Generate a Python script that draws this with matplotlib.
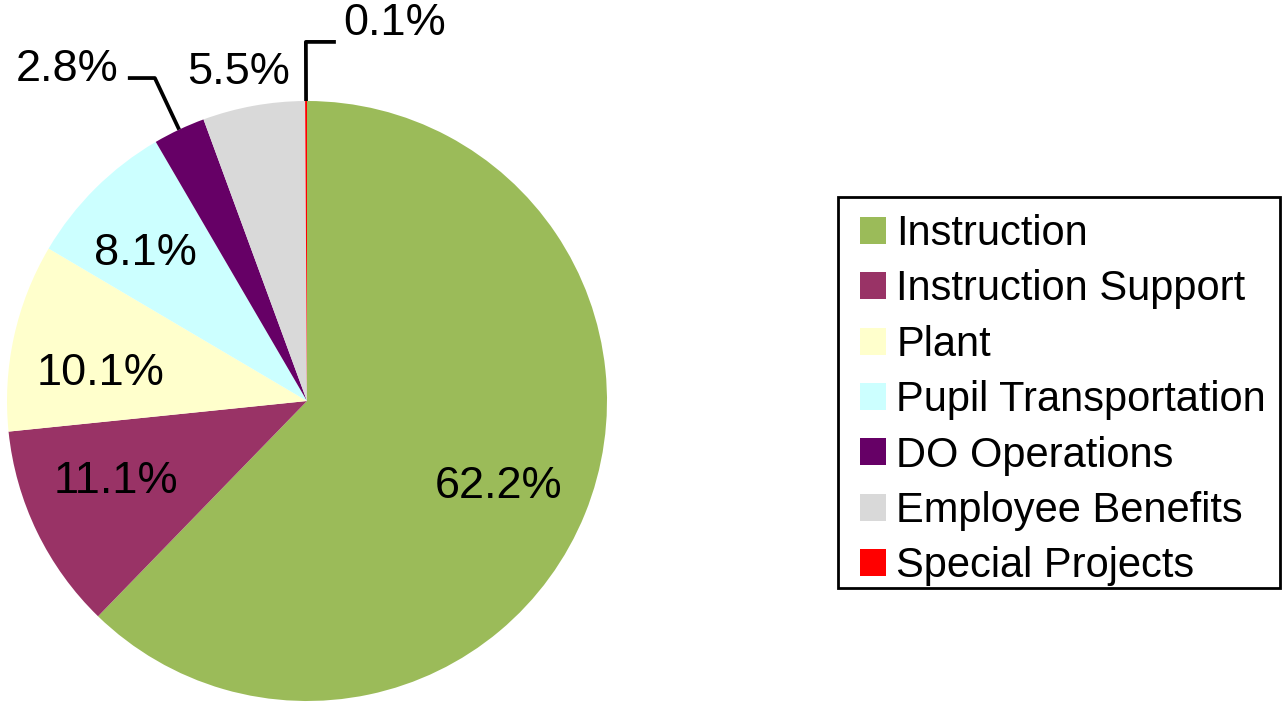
import numpy as np
import matplotlib
matplotlib.use("Agg")
import matplotlib.pyplot as plt
from matplotlib.patches import Rectangle

plt.rcParams['font.family'] = ['Liberation Sans', 'DejaVu Sans']

categories = ["Instruction", "Instruction Support", "Plant", "Pupil Transportation",
              "DO Operations", "Employee Benefits", "Special Projects"]
shares = [62.2, 11.1, 10.1, 8.1, 2.8, 5.5, 0.1]
colors = ["#9BBB59", "#993366", "#FFFFCC", "#CCFFFF", "#660066", "#D9D9D9", "#FF0000"]

W, H = 1282, 703
fig = plt.figure(figsize=(W / 100, H / 100), dpi=100)
ax = fig.add_axes([7 / W, 2 / H, 600 / W, 600 / H])

wedges, _ = ax.pie(shares, colors=colors, startangle=90, counterclock=False,
                   radius=1.0, wedgeprops=dict(linewidth=0))
ax.set_xlim(-1, 1)
ax.set_ylim(-1, 1)
ax.set_aspect("equal")
ax.axis("off")

# mid-angle of each slice
total = sum(shares)
cum = np.cumsum([0] + shares[:-1])
mids = 90 - (cum + np.array(shares) / 2) / total * 360

# small nudges (deg) like Excel's best-fit placement
nudge = [-2.1, -3.0, 4.7, 2.8, 0, 1.5, 0]
rads = [0.70, 0.69, 0.695, 0.73, 0, 1.12, 0]

fs = 32.5
for i, v in enumerate(shares):
    a = np.deg2rad(mids[i] + nudge[i])
    lab = f"{v:.1f}%"
    if i in (0, 1, 2, 3, 5):
        r = rads[i]
        ax.text(r * np.cos(a), r * np.sin(a), lab, ha="center", va="center", fontsize=fs,
                clip_on=False)
    elif i == 4:
        x0, y0 = np.cos(a), np.sin(a)
        x1, y1 = 1.19 * np.cos(a), 1.19 * np.sin(a)
        x2 = x1 - 0.09
        ax.plot([x0, x1, x2], [y0, y1, y1], color="black", lw=2.7, clip_on=False,
                solid_capstyle="butt")
        ax.text(x2 - 0.03, y1 + 0.03, lab, ha="right", va="center", fontsize=fs,
                clip_on=False)
    else:
        x0, y0 = np.cos(a), np.sin(a)
        x1, y1 = 1.197 * np.cos(a), 1.197 * np.sin(a)
        x2 = x1 + 0.1
        ax.plot([x0, x1, x2], [y0, y1, y1], color="black", lw=2.7, clip_on=False,
                solid_capstyle="butt")
        ax.text(x2 + 0.025, y1 + 0.06, lab, ha="left", va="center", fontsize=fs,
                clip_on=False)

leg = fig.legend(wedges, categories, loc="upper left",
                 bbox_to_anchor=(840 / W, 1 - 194 / H),
                 fontsize=30, frameon=False,
                 handlelength=0.62, handleheight=0.62, handletextpad=0.25,
                 labelspacing=0.37, borderpad=0.48, borderaxespad=0)

# legend frame
fig.patches.append(Rectangle((838 / W, 1 - 588 / H), (1280 - 838) / W, (588 - 197) / H,
                             transform=fig.transFigure, fill=False,
                             edgecolor="black", linewidth=2))

fig.savefig("out.png", dpi=100)
